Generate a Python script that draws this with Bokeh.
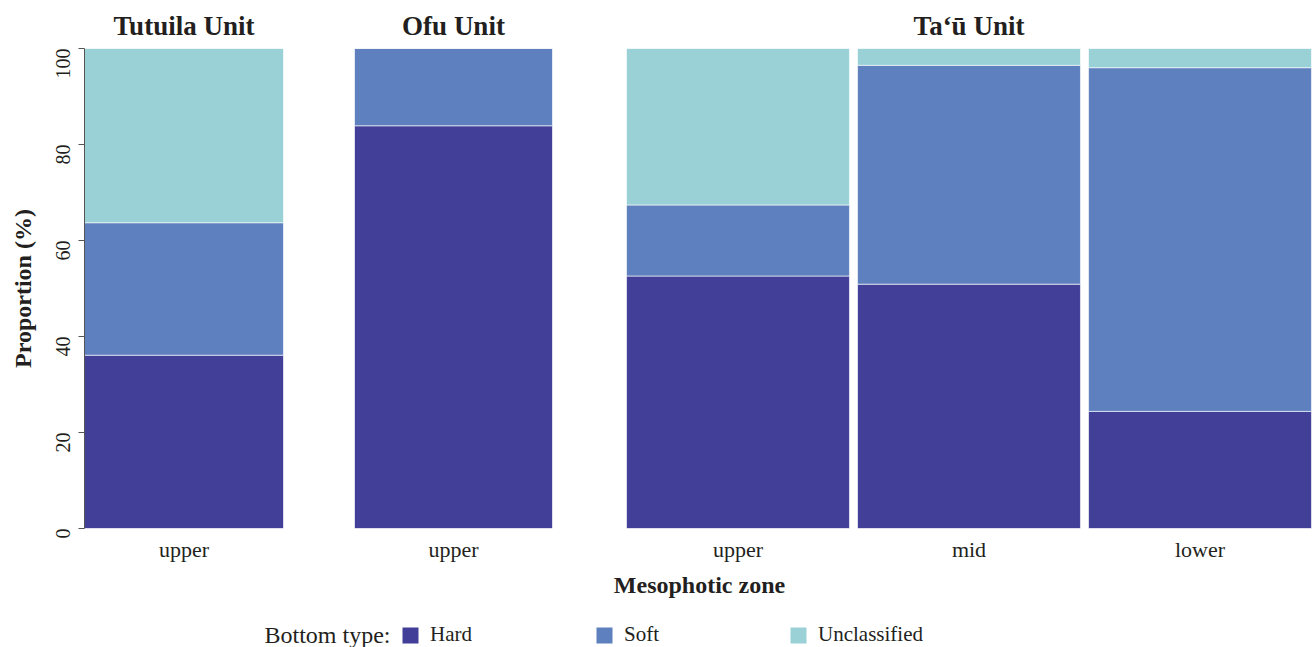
import math
from bokeh.plotting import figure
from bokeh.models import (FactorRange, Range1d, Legend, LegendItem, Label,
                          ColumnDataSource, FixedTicker)
from bokeh.layouts import column, row
from bokeh.embed import file_html
from bokeh.resources import INLINE

# ---------------- data ----------------
units = ["Tutuila Unit", "Ofu Unit", "Ta\u2018\u016b Unit"]
bottom_types = ["Hard", "Soft", "Unclassified"]

zones_tutuila = ["upper"]
hard_tutuila = [36.1]
soft_tutuila = [27.6]
uncl_tutuila = [36.3]

zones_ofu = ["upper"]
hard_ofu = [83.9]
soft_ofu = [16.1]
uncl_ofu = [0.0]

zones_tau = ["upper", "mid", "lower"]
hard_tau = [52.6, 50.9, 24.4]
soft_tau = [14.8, 45.6, 71.6]
uncl_tau = [32.6, 3.5, 4.0]

y_ticks = [0, 20, 40, 60, 80, 100]
x_title = "Mesophotic zone"
y_title = "Proportion (%)"
legend_title = "Bottom type:"

# ---------------- style ----------------
FONT = "Liberation Serif"
TXT = "#231f20"
COLORS = ["#413f98", "#5e80be", "#99d1d6"]
ROW_H = 566


def panel(title, zones, hard, soft, uncl, width, left, right, bar_w, show_y):
    src = ColumnDataSource(dict(zone=zones, Hard=hard, Soft=soft, Unclassified=uncl))
    p = figure(x_range=FactorRange(factors=zones, range_padding=0),
               y_range=Range1d(0, 100), width=width, height=ROW_H,
               output_backend="svg", toolbar_location=None,
               min_border_left=left, min_border_right=right,
               min_border_top=48, min_border_bottom=38,
               y_axis_location="left" if show_y else None, title=title)
    p.vbar_stack(bottom_types, x="zone", width=bar_w, color=COLORS,
                 line_color="white", line_width=1, line_alpha=0.6, source=src)
    p.title.align = "center"
    p.title.text_font = FONT
    p.title.text_font_size = "27px"
    p.title.text_font_style = "bold"
    p.title.text_color = TXT
    p.title.standoff = 15
    p.xgrid.visible = False
    p.ygrid.visible = False
    p.outline_line_color = None
    xa = p.xaxis[0]
    xa.axis_line_color = None
    xa.major_tick_line_color = None
    xa.minor_tick_line_color = None
    xa.major_label_text_font = FONT
    xa.major_label_text_font_size = "22px"
    xa.major_label_text_color = TXT
    xa.major_label_standoff = 2
    if show_y:
        ya = p.yaxis[0]
        ya.ticker = FixedTicker(ticks=y_ticks)
        ya.axis_line_color = "#555555"
        ya.major_tick_line_color = "#555555"
        ya.minor_tick_line_color = None
        ya.major_tick_out = 6
        ya.major_tick_in = 0
        ya.major_label_orientation = math.pi / 2
        ya.major_label_text_font = FONT
        ya.major_label_text_font_size = "20px"
        ya.major_label_text_color = TXT
        ya.major_label_standoff = 16
        ya.axis_label = y_title
        ya.axis_label_text_font = FONT
        ya.axis_label_text_font_size = "24px"
        ya.axis_label_text_font_style = "bold"
        ya.axis_label_text_color = TXT
        ya.axis_label_standoff = 10
    return p


p1 = panel(units[0], zones_tutuila, hard_tutuila, soft_tutuila, uncl_tutuila,
           318, 84, 35, 1.0, True)
p2 = panel(units[1], zones_ofu, hard_ofu, soft_ofu, uncl_ofu,
           272, 36, 38, 1.0, False)
p3 = panel(units[2], zones_tau, hard_tau, soft_tau, uncl_tau,
           725, 32, 0, 0.965, False)

# bottom strip: x-axis title and legend
p4 = figure(width=1315, height=81, x_range=Range1d(0, 1), y_range=Range1d(0, 1),
            output_backend="svg", toolbar_location=None,
            x_axis_location=None, y_axis_location=None,
            min_border_left=84, min_border_right=0, min_border_top=0, min_border_bottom=0)
p4.xgrid.visible = False
p4.ygrid.visible = False
p4.outline_line_color = None

p4.add_layout(Label(x=615, y=63, x_units="screen", y_units="screen", text=x_title,
                    text_font=FONT, text_font_size="24px", text_font_style="bold",
                    text_color=TXT, text_align="center", text_baseline="middle"))
p4.add_layout(Label(x=180, y=13, x_units="screen", y_units="screen", text=legend_title,
                    text_font=FONT, text_font_size="24px", text_color=TXT,
                    text_align="left", text_baseline="middle"))

# zero-height stand-in glyphs so the legend can draw its colour swatches
items = []
for name, c in zip(bottom_types, COLORS):
    r = p4.vbar(x=[0], top=[0], bottom=[0], width=0, fill_color=c, line_color=None)
    items.append(LegendItem(label=name, renderers=[r]))
legend = Legend(items=items, orientation="horizontal", location=(316, 0),
                glyph_width=20, glyph_height=20, label_height=20, label_width=164,
                label_standoff=10, spacing=0, padding=0, margin=0,
                border_line_color=None, background_fill_alpha=0,
                label_text_font=FONT, label_text_font_size="21px",
                label_text_color=TXT)
p4.add_layout(legend)

layout = column(row(p1, p2, p3, spacing=0), p4, spacing=0)
open("out.html", "w").write(file_html(layout, INLINE))
